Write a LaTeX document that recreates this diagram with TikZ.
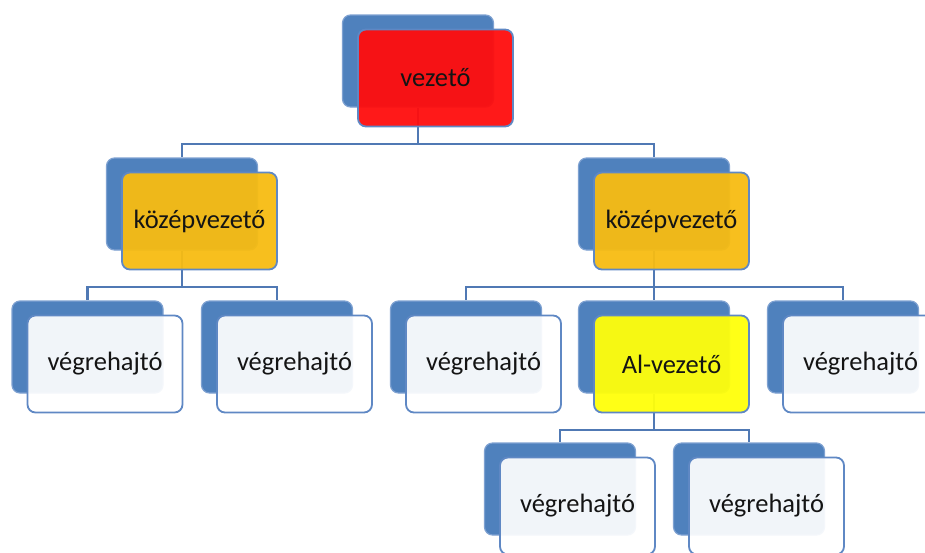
\documentclass[tikz,border=0pt]{standalone}
\usepackage{fontspec}
\setmainfont{Carlito}
\usepackage{tikz}
\usetikzlibrary{calc}
\usepackage{xcolor}

\definecolor{backblue}{HTML}{4F81BD}
\definecolor{backedge}{HTML}{7EA1D1}
\definecolor{frontedge}{HTML}{5F88C4}
\definecolor{linkblue}{HTML}{5079B4}
\definecolor{leadred}{HTML}{FF0D0D}
\definecolor{midgold}{HTML}{F7BC12}
\definecolor{subyellow}{HTML}{FFFF0A}
\definecolor{textdark}{HTML}{141414}

\begin{document}
\begin{tikzpicture}[x=1pt,y=-1pt,
  back/.style={draw=backedge,line width=1.2pt,fill=backblue,rounded corners=8pt,minimum width=151pt,minimum height=92pt,inner sep=0pt},
  front/.style={draw=frontedge,line width=1.8pt,fill=white,fill opacity=0.92,text opacity=1,rounded corners=8pt,minimum width=155pt,minimum height=97pt,inner sep=0pt,text=textdark,font=\fontsize{26.5}{31}\selectfont},
  tinted/.style={front,fill opacity=0.95},
  link/.style={draw=linkblue,line width=2.2pt},
  bus/.style={to path={-- ++(0,36) -| (\tikztotarget)}}]

  \useasboundingbox (0,0) rectangle (925,552);
  \clip (0,0) rectangle (925,552);

  \node[back] (lead-b) at (418,61) {};
  \node[back] (mid1-b) at (182,204) {};
  \node[back] (mid2-b) at (654,204) {};
  \node[back] (sub-b) at (654,347) {};

  \foreach \n/\x/\y in {ex1/87.5/347,ex2/277/347,ex3/466/347,ex4/843/347,ex5/560/489,ex6/749/489}
    \node[back] (\n-b) at (\x,\y) {};

  \path [every edge/.style={link,bus}]
    (lead-b.south) edge (mid1-b.north) edge (mid2-b.north)
    (mid1-b.south) edge (ex1-b.north) edge (ex2-b.north)
    (mid2-b.south) edge (ex3-b.north) edge (sub-b.north) edge (ex4-b.north)
    (sub-b.south) edge (ex5-b.north) edge (ex6-b.north);

  \node[tinted,fill=leadred] (lead) at ([xshift=17.5pt,yshift=-17pt]lead-b) {vezető};
  \node[tinted,fill=midgold] (mid1) at ([xshift=17.5pt,yshift=-17pt]mid1-b) {középvezető};
  \node[tinted,fill=midgold] (mid2) at ([xshift=17.5pt,yshift=-17pt]mid2-b) {középvezető};
  \node[tinted,fill=subyellow] (sub) at ([xshift=17.5pt,yshift=-17pt]sub-b) {Al-vezető};

  \foreach \n in {ex1,ex2,ex3,ex4,ex5,ex6}
    \node[front] (\n) at ([xshift=17.5pt,yshift=-17pt]\n-b) {végrehajtó};

\end{tikzpicture}
\end{document}
